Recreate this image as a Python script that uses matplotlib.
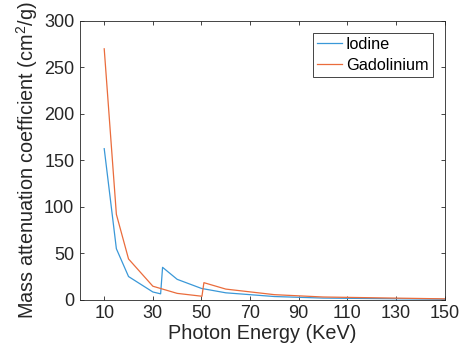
import matplotlib
matplotlib.use('Agg')
import matplotlib.pyplot as plt

# Photon energies (keV) and mass attenuation coefficients (cm^2/g)
iodine_energy = [10, 15, 20, 30, 33.2, 34, 40, 50, 60, 80, 100, 150]
iodine_mu = [162.6, 55.0, 25.1, 8.5, 6.5, 35.0, 22.1, 12.3, 7.6, 3.6, 1.94, 0.69]

gd_energy = [10, 15, 20, 30, 40, 50.2, 51, 60, 80, 100, 150]
gd_mu = [270.0, 92.0, 44.0, 14.7, 7.0, 3.9, 18.5, 11.6, 5.6, 3.1, 1.1]

x_ticks = [10, 30, 50, 70, 90, 110, 130, 150]
y_ticks = [0, 50, 100, 150, 200, 250, 300]

plt.rcParams['font.family'] = ['Liberation Sans', 'DejaVu Sans']
plt.rcParams['mathtext.fontset'] = 'custom'
plt.rcParams['mathtext.rm'] = 'Liberation Sans'

fig = plt.figure(figsize=(4.7, 3.6), dpi=100)
ax = fig.add_axes([0.170, 0.167, 0.776, 0.775])

ax.plot(iodine_energy, iodine_mu, color='#3A98D8', lw=0.9, label='Iodine')
ax.plot(gd_energy, gd_mu, color='#EA6C3C', lw=0.9, label='Gadolinium')

ax.set_xlim(0, 150)
ax.set_ylim(0, 300)
ax.set_xticks(x_ticks)
ax.set_yticks(y_ticks)

ax.set_xlabel('Photon Energy (KeV)', color='#262626', fontsize=14.3, labelpad=1)
ax.set_ylabel('Mass attenuation coefficient (cm$^\\mathrm{2}$/g)', color='#262626',
              fontsize=14.3, labelpad=3)

for s in ax.spines.values():
    s.set_color('#262626')
    s.set_linewidth(0.6)
ax.tick_params(direction='in', top=True, right=True, length=3, width=0.6,
               colors='#262626', labelsize=13, pad=4)

leg = ax.legend(loc='upper right', fontsize=11.7, fancybox=False, framealpha=1,
                edgecolor='#262626', handlelength=1.55, borderpad=0.25,
                labelspacing=0.35, handletextpad=0.25, borderaxespad=0,
                bbox_to_anchor=(0.967, 0.957))
leg.get_frame().set_linewidth(0.6)

fig.savefig('out.png', dpi=100)
plt.close(fig)
